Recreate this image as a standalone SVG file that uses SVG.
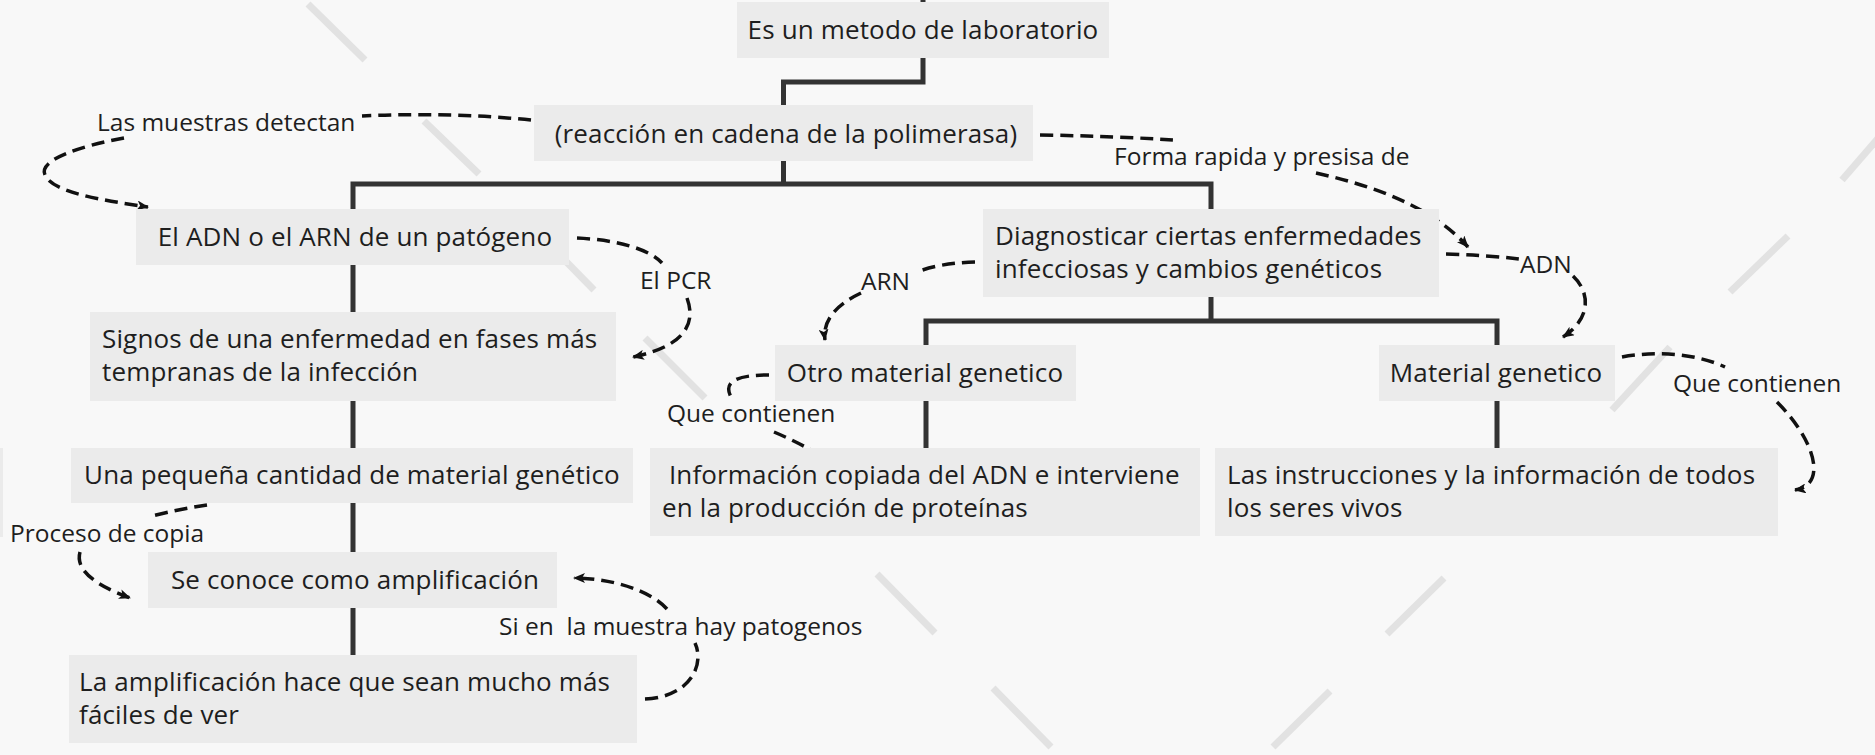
<svg xmlns="http://www.w3.org/2000/svg" width="1875" height="755" viewBox="0 0 1875 755">
<style>
.bg{fill:#f8f8f8}
.deco{stroke:#e2e2e2;stroke-width:7;fill:none}
.box{fill:#ebebeb}
.t{font-family:"Open Sans","Liberation Sans",sans-serif;font-size:26px;letter-spacing:0.15px;fill:#1e1e1e}
.lb{font-family:"Open Sans","Liberation Sans",sans-serif;font-size:24.5px;fill:#1e1e1e;white-space:pre}
.tree{stroke:#333333;stroke-width:5;fill:none}
.dash{stroke:#111111;stroke-width:3.5;fill:none;stroke-dasharray:13 7}
</style>
<defs>
<marker id="arr" viewBox="0 0 12 10" refX="11" refY="5" markerWidth="12" markerHeight="10" markerUnits="userSpaceOnUse" orient="auto">
<path d="M0,0 L12,5 L0,10 L3,5 Z" fill="#111111"/>
</marker>
</defs>
<rect class="bg" x="0" y="0" width="1875" height="755"/>
<g id="decor">
<line class="deco" x1="308" y1="4" x2="365" y2="60"/>
<line class="deco" x1="424" y1="121" x2="479" y2="174"/>
<line class="deco" x1="545" y1="240" x2="594" y2="290"/>
<line class="deco" x1="645" y1="338" x2="705" y2="398"/>
<line class="deco" x1="1842" y1="180" x2="1880" y2="136"/>
<line class="deco" x1="1730" y1="292" x2="1788" y2="236"/>
<line class="deco" x1="1612" y1="410" x2="1670" y2="347"/>
<line class="deco" x1="877" y1="574" x2="935" y2="633"/>
<line class="deco" x1="1444" y1="578" x2="1387" y2="634"/>
<line class="deco" x1="993" y1="688" x2="1051" y2="747"/>
<line class="deco" x1="1330" y1="691" x2="1273" y2="747"/>
<rect class="box" x="-20" y="448" width="23" height="89"/>
</g>
<g id="connectors">
<path class="tree" d="M923,-5 V2"/>
<path class="tree" d="M923,58 V82 H783.5 V105"/>
<path class="tree" d="M783.5,161 V184"/>
<path class="tree" d="M353,209 V184 H1211 V209"/>
<path class="tree" d="M353,265 V312 M353,401 V448 M353,503 V552 M353,608 V655"/>
<path class="tree" d="M1211,297 V321 M926,345 V321 H1497 V345"/>
<path class="tree" d="M926,401 V448 M1497,401 V448"/>
<path class="dash" d="M531,120 Q450,112 362,116"/>
<path class="dash" d="M124,138 C80,146 38,160 45,175 C52,192 100,200 148,207" marker-end="url(#arr)"/>
<path class="dash" d="M1040,135 Q1110,136 1174,140"/>
<path class="dash" d="M1316,173 C1370,185 1430,205 1468,247" marker-end="url(#arr)"/>
<path class="dash" d="M1446,254 Q1485,255 1519,259"/>
<path class="dash" d="M1573,276 C1590,292 1592,318 1563,337" marker-end="url(#arr)"/>
<path class="dash" d="M975,262 Q940,263 917,272"/>
<path class="dash" d="M861,293 C840,303 822,318 825,340" marker-end="url(#arr)"/>
<path class="dash" d="M577,238 C620,240 650,250 662,263"/>
<path class="dash" d="M687,298 C695,320 690,345 633,357" marker-end="url(#arr)"/>
<path class="dash" d="M769,375 C740,375 722,380 731,397"/>
<path class="dash" d="M774,432 Q800,443 825,458" marker-end="url(#arr)"/>
<path class="dash" d="M1622,357 C1660,350 1700,355 1725,367"/>
<path class="dash" d="M1777,402 C1815,440 1828,485 1795,490" marker-end="url(#arr)"/>
<path class="dash" d="M207,505 Q180,509 152,516"/>
<path class="dash" d="M80,552 C75,570 95,585 130,598" marker-end="url(#arr)"/>
<path class="dash" d="M645,699 C690,697 705,665 695,643"/>
<path class="dash" d="M667,609 C650,590 610,578 574,578" marker-end="url(#arr)"/>
<text class="lb" x="97" y="131">Las muestras detectan</text>
<text class="lb" x="1114" y="165">Forma rapida y presisa de</text>
<text class="lb" x="1520" y="273">ADN</text>
<text class="lb" x="861" y="290">ARN</text>
<text class="lb" x="640" y="289">El PCR</text>
<text class="lb" x="667" y="422">Que contienen</text>
<text class="lb" x="1673" y="392">Que contienen</text>
<text class="lb" x="10" y="542">Proceso de copia</text>
<text class="lb" x="499" y="635">Si en  la muestra hay patogenos</text>
</g>
<g id="n1"><rect class="box" x="737" y="2" width="372" height="56"/><text class="t" x="923" y="39" text-anchor="middle">Es un metodo de laboratorio</text></g>
<g id="n2"><rect class="box" x="534" y="105" width="499" height="56"/><text class="t" x="786" y="143" text-anchor="middle">(reacción en cadena de la polimerasa)</text></g>
<g id="n3"><rect class="box" x="136" y="209" width="433" height="56"/><text class="t" x="355" y="246" text-anchor="middle">El ADN o el ARN de un patógeno</text></g>
<g id="n4"><rect class="box" x="983" y="209" width="456" height="88"/><text class="t" x="995" y="245">Diagnosticar ciertas enfermedades</text><text class="t" x="995" y="278">infecciosas y cambios genéticos</text></g>
<g id="n5"><rect class="box" x="90" y="312" width="526" height="89"/><text class="t" x="102" y="348">Signos de una enfermedad en fases más</text><text class="t" x="102" y="381">tempranas de la infección</text></g>
<g id="n6"><rect class="box" x="775" y="345" width="301" height="56"/><text class="t" x="925" y="382" text-anchor="middle">Otro material genetico</text></g>
<g id="n7"><rect class="box" x="1379" y="345" width="236" height="56"/><text class="t" x="1496" y="382" text-anchor="middle">Material genetico</text></g>
<g id="n8"><rect class="box" x="71" y="448" width="562" height="55"/><text class="t" x="352" y="484" text-anchor="middle">Una pequeña cantidad de material genético</text></g>
<g id="n9"><rect class="box" x="650" y="448" width="550" height="88"/><text class="t" x="662" y="484" xml:space="preserve"> Información copiada del ADN e interviene</text><text class="t" x="662" y="517">en la producción de proteínas</text></g>
<g id="n10"><rect class="box" x="1215" y="448" width="563" height="88"/><text class="t" x="1227" y="484">Las instrucciones y la información de todos</text><text class="t" x="1227" y="517">los seres vivos</text></g>
<g id="n11"><rect class="box" x="148" y="552" width="409" height="56"/><text class="t" x="355" y="589" text-anchor="middle">Se conoce como amplificación</text></g>
<g id="n12"><rect class="box" x="69" y="655" width="568" height="88"/><text class="t" x="79" y="691">La amplificación hace que sean mucho más</text><text class="t" x="79" y="724">fáciles de ver</text></g>
</svg>
